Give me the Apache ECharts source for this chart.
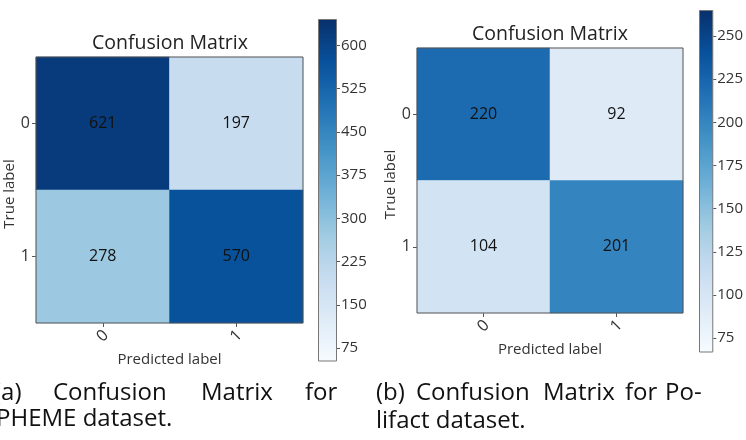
<!DOCTYPE html>
<html>
<head>
<meta charset="utf-8">
<script src="https://cdn.jsdelivr.net/npm/echarts@6/dist/echarts.min.js"></script>
<style>
  html, body { margin: 0; padding: 0; background: #fff; }
  #chart { width: 746px; height: 440px; }
</style>
</head>
<body>
<div id="chart"></div>
<script>
// Class labels shared by both matrices
const classLabels = ['0', '1'];

// Confusion matrices: rows = true label, columns = predicted label
const phemeMatrix = [
  [621, 197],
  [278, 570]
];
const polifactMatrix = [
  [220, 92],
  [104, 201]
];

// Colour-bar ranges and tick values
const phemeRange = [52.5, 645.5];
const polifactRange = [67, 265];
const phemeBarTicks = [75, 150, 225, 300, 375, 450, 525, 600];
const polifactBarTicks = [75, 100, 125, 150, 175, 200, 225, 250];

// Matplotlib "Blues" colormap
const blues = ['#f7fbff', '#deebf7', '#c6dbef', '#9ecae1', '#6baed6',
               '#4292c6', '#2171b5', '#08519c', '#08306b'];

const FONT = '"Open Sans", "Noto Sans", sans-serif';
const AXIS_GRAY = '#555';
const TEXT_GRAY = '#333';

function toCells(matrix) {
  const out = [];
  matrix.forEach((row, r) => row.forEach((v, c) => out.push([c, r, v])));
  return out;
}

function gradient() {
  // top = dark end, bottom = light end
  const n = blues.length - 1;
  return {
    type: 'linear', x: 0, y: 0, x2: 0, y2: 1,
    colorStops: blues.slice().reverse().map((c, i) => ({ offset: i / n, color: c }))
  };
}

function heatGrid(left, top, width, height) {
  return {
    left, top, width, height,
    show: true, z: 10,
    backgroundColor: 'transparent',
    borderColor: AXIS_GRAY, borderWidth: 1
  };
}

function catX(gridIndex) {
  return {
    type: 'category', gridIndex, data: classLabels,
    axisLine: { show: false },
    axisTick: { show: true, alignWithLabel: true, length: 4, lineStyle: { color: AXIS_GRAY } },
    axisLabel: { rotate: 45, margin: 13, align: 'center', verticalAlign: 'middle',
                 fontSize: 16, color: TEXT_GRAY, fontFamily: FONT },
    splitLine: { show: false },
    name: 'Predicted label', nameLocation: 'middle', nameGap: 22,
    nameTextStyle: { fontSize: 15, color: TEXT_GRAY, fontFamily: FONT }
  };
}

function catY(gridIndex, gap) {
  return {
    type: 'category', gridIndex, data: classLabels, inverse: true,
    axisLine: { show: false },
    axisTick: { show: true, alignWithLabel: true, length: 4, lineStyle: { color: AXIS_GRAY } },
    axisLabel: { margin: 6, fontSize: 16, color: TEXT_GRAY, fontFamily: FONT },
    splitLine: { show: false },
    name: 'True label', nameLocation: 'middle', nameGap: gap,
    nameTextStyle: { fontSize: 15, color: TEXT_GRAY, fontFamily: FONT, padding: [0, 8, 0, 0] }
  };
}

function barX(gridIndex) {
  return { type: 'category', gridIndex, data: ['scale'], show: false };
}

function barY(gridIndex, range, ticks) {
  return {
    type: 'value', gridIndex, position: 'right',
    min: range[0], max: range[1],
    axisLine: { show: false },
    axisTick: { show: true, length: 3, customValues: ticks, lineStyle: { color: AXIS_GRAY } },
    axisLabel: { show: true, margin: 4, customValues: ticks, fontSize: 15, color: TEXT_GRAY, fontFamily: FONT },
    splitLine: { show: false }
  };
}

function heatSeries(idx, matrix) {
  return {
    type: 'heatmap', xAxisIndex: idx, yAxisIndex: idx,
    data: toCells(matrix),
    label: {
      show: true, fontSize: 16, color: '#111', fontFamily: FONT,
      formatter: p => String(p.value[2])
    },
    itemStyle: { borderWidth: 0 },
    emphasis: { disabled: true }
  };
}

function barSeries(idx, range) {
  return {
    type: 'bar', xAxisIndex: idx, yAxisIndex: idx,
    data: [range[1]], barWidth: '100%',
    itemStyle: { color: gradient(), borderColor: '#777', borderWidth: 1 },
    emphasis: { disabled: true }
  };
}

function words(list, y) {
  return list.map(([text, x]) => ({
    type: 'text', left: x, top: y,
    style: { text, font: '24px ' + FONT, fill: '#111' }
  }));
}

const chart = echarts.init(document.getElementById('chart'), null, { renderer: 'canvas' });

chart.setOption({
  animation: false,
  backgroundColor: '#fff',
  title: [
    { text: 'Confusion Matrix', left: 170, top: 33, padding: 0, textAlign: 'center',
      textStyle: { fontSize: 19.5, fontWeight: 'normal', color: '#222', fontFamily: FONT } },
    { text: 'Confusion Matrix', left: 550, top: 24, padding: 0, textAlign: 'center',
      textStyle: { fontSize: 19.5, fontWeight: 'normal', color: '#222', fontFamily: FONT } }
  ],
  grid: [
    heatGrid(36, 57, 267, 266),
    { left: 318, top: 19, width: 19, height: 342 },
    heatGrid(417, 48, 266, 265),
    { left: 699, top: 10, width: 18, height: 342 }
  ],
  xAxis: [catX(0), barX(1), catX(2), barX(3)],
  yAxis: [
    catY(0, 15),
    barY(1, phemeRange, phemeBarTicks),
    catY(2, 10),
    barY(3, polifactRange, polifactBarTicks)
  ],
  visualMap: [
    { type: 'continuous', seriesIndex: 0, min: phemeRange[0], max: phemeRange[1],
      inRange: { color: blues }, show: false },
    { type: 'continuous', seriesIndex: 2, min: polifactRange[0], max: polifactRange[1],
      inRange: { color: blues }, show: false }
  ],
  series: [
    heatSeries(0, phemeMatrix),
    barSeries(1, phemeRange),
    heatSeries(2, polifactMatrix),
    barSeries(3, polifactRange)
  ],
  graphic: [
    ...words([['(a)', -6], ['Confusion', 53], ['Matrix', 201], ['for', 305]], 381),
    ...words([['PHEME dataset.', -4]], 407),
    ...words([['(b)', 376], ['Confusion', 416], ['Matrix', 543], ['for', 625], ['Po-', 665]], 381),
    ...words([['lifact dataset.', 376]], 409)
  ]
});
</script>
</body>
</html>
